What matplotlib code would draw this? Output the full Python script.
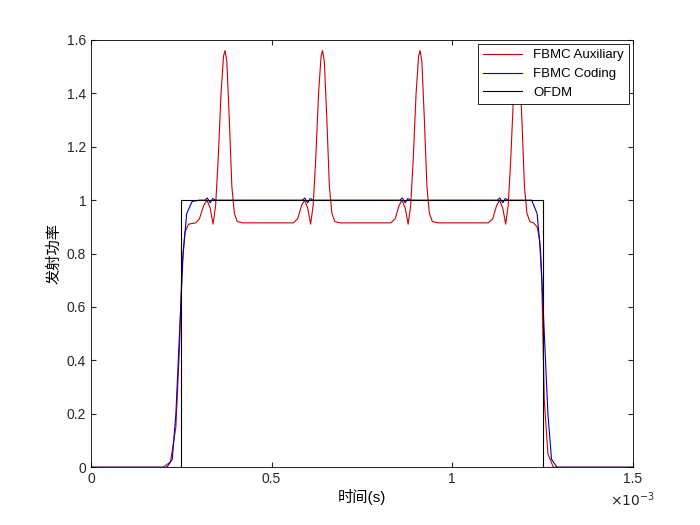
import matplotlib
matplotlib.use("Agg")
import matplotlib.pyplot as plt

plt.rcParams['font.family'] = ['Liberation Sans', 'Noto Sans CJK SC', 'DejaVu Sans']

# time in ms
aux_t = [0, 0.20, 0.22, 0.235, 0.245, 0.252, 0.26, 0.27, 0.29,
         0.30, 0.312, 0.321, 0.33, 0.338, 0.345, 0.352, 0.36, 0.367, 0.371, 0.376, 0.383, 0.39, 0.397, 0.405, 0.42,
         0.56, 0.572, 0.583, 0.591, 0.60, 0.608, 0.615, 0.622, 0.63, 0.637, 0.641, 0.646, 0.653, 0.66, 0.667, 0.675, 0.69,
         0.83, 0.842, 0.853, 0.861, 0.87, 0.878, 0.885, 0.892, 0.90, 0.907, 0.911, 0.916, 0.923, 0.93, 0.937, 0.945, 0.96,
         1.10, 1.112, 1.123, 1.131, 1.14, 1.148, 1.155, 1.162, 1.17, 1.177, 1.181, 1.186, 1.193, 1.20, 1.207, 1.215,
         1.225, 1.235, 1.242, 1.248, 1.251, 1.255, 1.265, 1.28, 1.5]
aux_p = [0, 0, 0.02, 0.15, 0.45, 0.75, 0.88, 0.91, 0.915,
         0.93, 0.98, 1.0, 0.97, 0.91, 0.98, 1.15, 1.40, 1.54, 1.56, 1.52, 1.30, 1.05, 0.95, 0.92, 0.915,
         0.915, 0.93, 0.98, 1.0, 0.97, 0.91, 0.98, 1.15, 1.40, 1.54, 1.56, 1.52, 1.30, 1.05, 0.95, 0.92, 0.915,
         0.915, 0.93, 0.98, 1.0, 0.97, 0.91, 0.98, 1.15, 1.40, 1.54, 1.56, 1.52, 1.30, 1.05, 0.95, 0.92, 0.915,
         0.915, 0.93, 0.98, 1.0, 0.97, 0.91, 0.98, 1.15, 1.40, 1.54, 1.56, 1.52, 1.30, 1.05, 0.95, 0.92,
         0.915, 0.90, 0.85, 0.70, 0.50, 0.25, 0.05, 0, 0]

cod_t = [0, 0.21, 0.225, 0.235, 0.245, 0.255, 0.265, 0.28, 0.30,
         0.315, 0.322, 0.33, 0.337, 0.345,
         0.585, 0.592, 0.60, 0.607, 0.615,
         0.855, 0.862, 0.87, 0.877, 0.885,
         1.125, 1.132, 1.14, 1.147, 1.155,
         1.22, 1.235, 1.245, 1.255, 1.265, 1.275, 1.29, 1.5]
cod_p = [0, 0, 0.03, 0.2, 0.5, 0.8, 0.95, 0.995, 1.0,
         1.0, 1.008, 0.99, 1.006, 1.0,
         1.0, 1.008, 0.99, 1.006, 1.0,
         1.0, 1.008, 0.99, 1.006, 1.0,
         1.0, 1.008, 0.99, 1.006, 1.0,
         1.0, 0.95, 0.8, 0.5, 0.2, 0.03, 0, 0]

ofdm_t = [0, 0.25, 0.25, 1.25, 1.25, 1.5]
ofdm_p = [0, 0, 1, 1, 0, 0]

fig = plt.figure(figsize=(7, 5.25), dpi=100)
ax = fig.add_axes([0.13, 0.11, 0.774, 0.814])
ax.plot([t * 1e-3 for t in aux_t], aux_p, color='#d00000', lw=0.8, label='FBMC Auxiliary')
ax.plot([t * 1e-3 for t in cod_t], cod_p, color='#0000c0', lw=0.8, label='FBMC Coding')
ax.plot([t * 1e-3 for t in ofdm_t], ofdm_p, color='black', lw=0.8, label='OFDM')

ax.set_xlim(0, 1.5e-3)
ax.set_ylim(0, 1.6)
ax.set_xticks([0, 0.5e-3, 1e-3, 1.5e-3])
ax.set_xticklabels(['0', '0.5', '1', '1.5'])
ax.set_yticks([0, 0.2, 0.4, 0.6, 0.8, 1, 1.2, 1.4, 1.6])
ax.set_yticklabels(['0', '0.2', '0.4', '0.6', '0.8', '1', '1.2', '1.4', '1.6'])
ax.tick_params(direction='in', labelsize=10, top=True, right=True, colors='#262626')
ax.text(1.0, -0.055, r'$\times10^{-3}$', transform=ax.transAxes, ha='center', va='top', fontsize=10, color='#262626')
ax.set_xlabel('时间(s)', fontsize=11, labelpad=2)
ax.set_ylabel('发射功率', fontsize=11)
leg = ax.legend(loc='upper right', fontsize=9.5, fancybox=False, edgecolor='black', framealpha=1,
                borderaxespad=0.3, handlelength=3)
leg.get_frame().set_linewidth(0.6)
for s in ax.spines.values():
    s.set_linewidth(0.6)

fig.savefig('out.png')
